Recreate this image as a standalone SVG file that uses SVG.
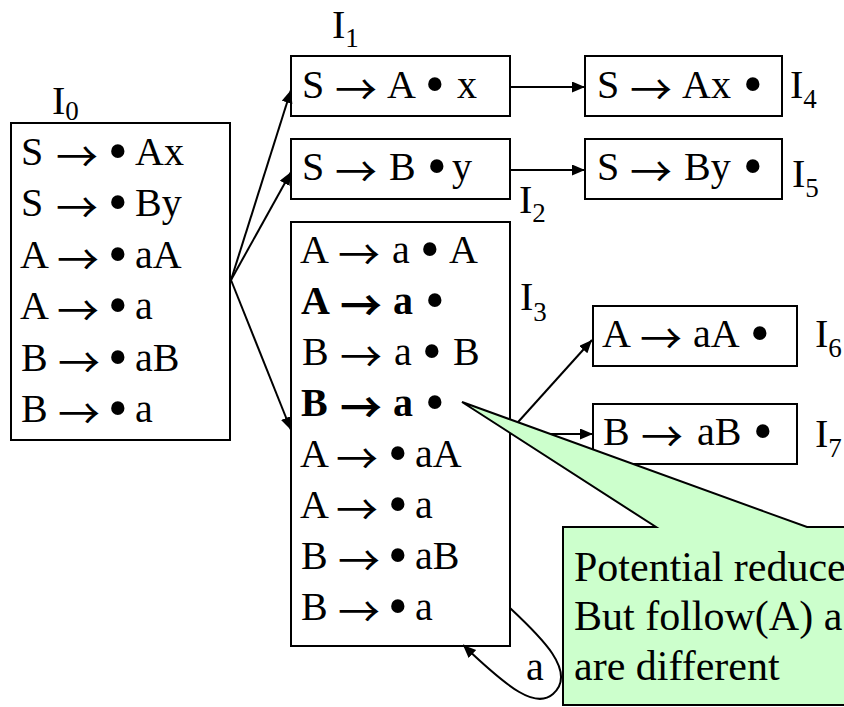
<svg xmlns="http://www.w3.org/2000/svg" width="844" height="707" viewBox="0 0 844 707">
<defs>
<style>
.t{font-family:'Liberation Serif','Times New Roman',serif;font-size:40px;fill:#000}
.b{font-weight:bold}
.ar{font-family:'Noto Sans CJK JP','Noto Sans CJK SC',sans-serif;font-size:42px;fill:#000}
.bl{font-size:56px;font-weight:normal}
.sub{font-size:27px}
.box{fill:#fff;stroke:#000;stroke-width:2}
.edge{stroke:#000;stroke-width:2;fill:none;marker-end:url(#ah)}
.call{fill:#ccffcc;stroke:#000;stroke-width:2;stroke-linejoin:miter}
.ct{font-family:'Liberation Serif','Times New Roman',serif;font-size:42px;fill:#000}
</style>
<marker id="ah" markerUnits="userSpaceOnUse" markerWidth="14" markerHeight="12" refX="13" refY="5.5" orient="auto">
<path d="M0,0 L13,5.5 L0,11 z" fill="#000"/>
</marker>
</defs>
<rect width="844" height="707" fill="#fff"/>

<g id="I0">
<rect class="box" x="11" y="123" width="219" height="317"/>
<text class="t" x="52" y="114">I<tspan class="sub" dy="6">0</tspan></text>
<text class="t" y="165"><tspan x="21">S</tspan><tspan class="bl" x="108" dy="5">•</tspan><tspan x="135" dy="-5">Ax</tspan></text>
<text class="t" y="216"><tspan x="21">S</tspan><tspan class="bl" x="108" dy="5">•</tspan><tspan x="135" dy="-5">By</tspan></text>
<text class="t" y="268"><tspan x="20">A</tspan><tspan class="bl" x="108" dy="5">•</tspan><tspan x="135" dy="-5">aA</tspan></text>
<text class="t" y="319"><tspan x="20">A</tspan><tspan class="bl" x="108" dy="5">•</tspan><tspan x="135" dy="-5">a</tspan></text>
<text class="t" y="371"><tspan x="21">B</tspan><tspan class="bl" x="108" dy="5">•</tspan><tspan x="135" dy="-5">aB</tspan></text>
<text class="t" y="422"><tspan x="21">B</tspan><tspan class="bl" x="108" dy="5">•</tspan><tspan x="135" dy="-5">a</tspan></text>
<text class="ar" x="56" y="172">→</text>
<text class="ar" x="56" y="223">→</text>
<text class="ar" x="57" y="275">→</text>
<text class="ar" x="57" y="326">→</text>
<text class="ar" x="58" y="378">→</text>
<text class="ar" x="58" y="429">→</text>
</g>

<g id="I1">
<rect class="box" x="291" y="56" width="219" height="60"/>
<text class="t" x="332" y="38">I<tspan class="sub" dy="9">1</tspan></text>
<text class="t" y="98"><tspan x="302">S</tspan><tspan x="387">A</tspan><tspan class="bl" x="425" dy="5">•</tspan><tspan x="457" dy="-5">x</tspan></text>
<text class="ar" x="335" y="105">→</text>
</g>

<g id="I2">
<rect class="box" x="291" y="139" width="219" height="60"/>
<text class="t" x="519" y="213">I<tspan class="sub" dy="9">2</tspan></text>
<text class="t" y="180"><tspan x="302">S</tspan><tspan x="389">B</tspan><tspan class="bl" x="427" dy="5">•</tspan><tspan x="452" dy="-5">y</tspan></text>
<text class="ar" x="335" y="187">→</text>
</g>

<g id="I3">
<rect class="box" x="291" y="222" width="219" height="424"/>
<text class="t" x="520" y="310">I<tspan class="sub" dy="11">3</tspan></text>
<text class="t" y="263"><tspan x="300">A</tspan><tspan x="392">a</tspan><tspan class="bl" x="420" dy="5">•</tspan><tspan x="449" dy="-5">A</tspan></text>
<text class="t b" y="314"><tspan x="301">A</tspan><tspan x="393">a</tspan><tspan class="bl" x="425" dy="5">•</tspan></text>
<text class="t" y="365"><tspan x="302">B</tspan><tspan x="394">a</tspan><tspan class="bl" x="422" dy="5">•</tspan><tspan x="453" dy="-5">B</tspan></text>
<text class="t b" y="416"><tspan x="301">B</tspan><tspan x="393">a</tspan><tspan class="bl" x="425" dy="5">•</tspan></text>
<text class="t" y="467"><tspan x="300">A</tspan><tspan class="bl" x="388" dy="5">•</tspan><tspan x="415" dy="-5">aA</tspan></text>
<text class="t" y="518"><tspan x="300">A</tspan><tspan class="bl" x="388" dy="5">•</tspan><tspan x="415" dy="-5">a</tspan></text>
<text class="t" y="569"><tspan x="301">B</tspan><tspan class="bl" x="388" dy="5">•</tspan><tspan x="415" dy="-5">aB</tspan></text>
<text class="t" y="620"><tspan x="301">B</tspan><tspan class="bl" x="388" dy="5">•</tspan><tspan x="415" dy="-5">a</tspan></text>
<text class="ar" x="338" y="270">→</text>
<text class="ar b" x="340" y="321">→</text>
<text class="ar" x="340" y="372">→</text>
<text class="ar b" x="340" y="423">→</text>
<text class="ar" x="336" y="474">→</text>
<text class="ar" x="336" y="525">→</text>
<text class="ar" x="338" y="576">→</text>
<text class="ar" x="338" y="627">→</text>
</g>

<g id="I4">
<rect class="box" x="585" y="56" width="197" height="60"/>
<text class="t" x="790" y="98">I<tspan class="sub" dy="10">4</tspan></text>
<text class="t" y="98"><tspan x="597">S</tspan><tspan x="682">Ax</tspan><tspan class="bl" x="743" dy="5">•</tspan></text>
<text class="ar" x="630" y="105">→</text>
</g>

<g id="I5">
<rect class="box" x="585" y="139" width="197" height="60"/>
<text class="t" x="792" y="187">I<tspan class="sub" dy="10">5</tspan></text>
<text class="t" y="180"><tspan x="597">S</tspan><tspan x="684">By</tspan><tspan class="bl" x="743" dy="5">•</tspan></text>
<text class="ar" x="630" y="187">→</text>
</g>

<g id="I6">
<rect class="box" x="593" y="306" width="204" height="60"/>
<text class="t" x="815" y="347">I<tspan class="sub" dy="10">6</tspan></text>
<text class="t" y="347"><tspan x="602">A</tspan><tspan x="693">aA</tspan><tspan class="bl" x="750" dy="5">•</tspan></text>
<text class="ar" x="640" y="354">→</text>
</g>

<g id="I7">
<rect class="box" x="593" y="404" width="204" height="60"/>
<text class="t" x="815" y="447">I<tspan class="sub" dy="10">7</tspan></text>
<text class="t" y="445"><tspan x="603">B</tspan><tspan x="697">aB</tspan><tspan class="bl" x="753" dy="5">•</tspan></text>
<text class="ar" x="641" y="452">→</text>
</g>

<g id="connectors">
<line class="edge" x1="231" y1="280" x2="291" y2="90"/>
<line class="edge" x1="231" y1="280" x2="291" y2="172"/>
<line class="edge" x1="231" y1="280" x2="291" y2="430"/>
<line class="edge" x1="510" y1="87" x2="585" y2="87"/>
<line class="edge" x1="510" y1="170" x2="585" y2="170"/>
<line class="edge" x1="510" y1="431" x2="592" y2="340"/>
<line class="edge" x1="510" y1="434" x2="593" y2="434"/>
<path class="edge" d="M510,608 C540,636 578,672 553,694 C536,709 510,690 463,645"/>
<text class="t" x="526" y="680">a</text>
</g>

<g id="callout">
<path class="call" d="M563,527 L656,527 L462,402 L807,527 L850,527 L850,705 L563,705 Z"/>
<text class="ct" x="574" y="581">Potential reduce</text>
<text class="ct" x="574" y="630">But follow(A) a</text>
<text class="ct" x="574" y="680">are different</text>
</g>
</svg>
